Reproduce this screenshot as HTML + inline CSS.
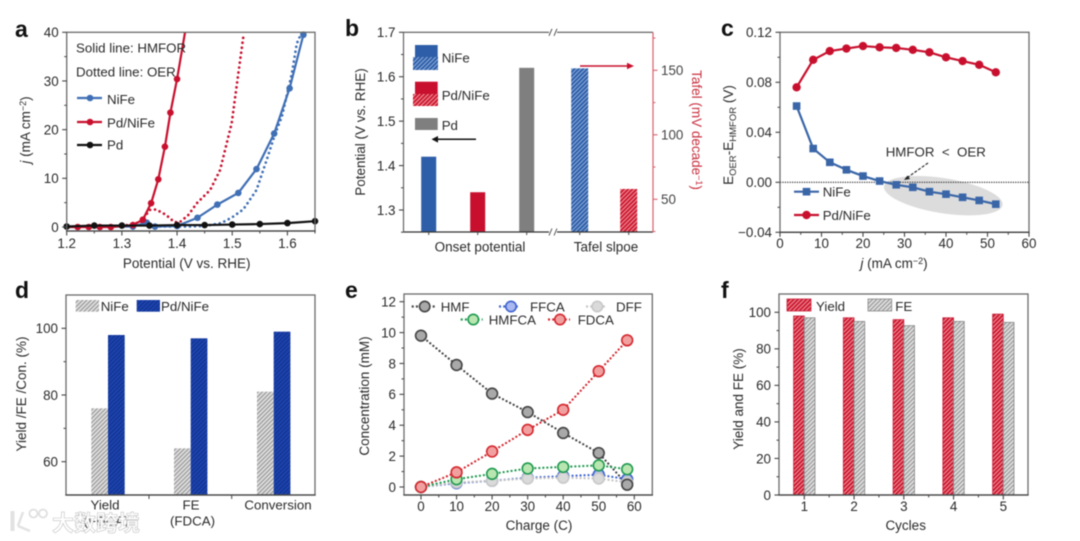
<!DOCTYPE html>
<html lang="en">
<head>
<meta charset="utf-8">
<title>Electrocatalysis figure panels a–f</title>
<style>
html,body{margin:0;padding:0;background:#fff;width:1080px;height:541px;overflow:hidden}
svg{display:block;filter:blur(0.5px)}
text{font-family:"Liberation Sans","Noto Sans CJK SC",sans-serif;fill:#2a2a2a}
</style>
</head>
<body>
<svg id="chart" xmlns="http://www.w3.org/2000/svg" width="1080" height="541" viewBox="0 0 1080 541">
<defs>
<pattern id="h-blue" width="3" height="3" patternUnits="userSpaceOnUse" patternTransform="rotate(45)"><rect width="3" height="3" fill="#2f5ea8"/><rect width="1" height="3" fill="#8fb0dc"/></pattern>
<pattern id="h-red" width="3" height="3" patternUnits="userSpaceOnUse" patternTransform="rotate(45)"><rect width="3" height="3" fill="#cc1a30"/><rect width="1" height="3" fill="#f29aa5"/></pattern>
<pattern id="h-gray" width="3" height="3" patternUnits="userSpaceOnUse" patternTransform="rotate(45)"><rect width="3" height="3" fill="#e2e2e2"/><rect width="1.3" height="3" fill="#9a9a9a"/></pattern>
<pattern id="h-navy" width="3" height="3" patternUnits="userSpaceOnUse" patternTransform="rotate(45)"><rect width="3" height="3" fill="#1c43ae"/><rect width="1" height="3" fill="#12308a"/></pattern>
<clipPath id="clip-a"><rect x="66.7" y="32.3" width="248.3" height="199"/></clipPath>
</defs>
</svg>
<script>
// ---------- Panel a data ----------
const aTicksX = [1.2, 1.3, 1.4, 1.5, 1.6];
const aTicksY = [0, 10, 20, 30, 40];
const aNiFeSolidX = [1.2, 1.32, 1.345, 1.36, 1.4, 1.437, 1.473, 1.511, 1.544, 1.576, 1.604, 1.629];
const aNiFeSolidY = [0, 0.1, 0.9, 0.1, 0.2, 1.9, 4.6, 7, 11.9, 19.2, 28.5, 39.5];
const aNiFeDotX = [1.36, 1.42, 1.45, 1.48, 1.5, 1.52, 1.544, 1.5625, 1.578, 1.59, 1.608, 1.617, 1.626];
const aNiFeDotY = [0.1, 0.1, 0.2, 0.8, 2, 3.6, 7.6, 13.8, 19.2, 22.7, 31.5, 37.7, 40];
const aPdNiFeSolidX = [1.2, 1.22, 1.24, 1.26, 1.28, 1.32, 1.338, 1.353, 1.366, 1.378, 1.388, 1.4, 1.416];
const aPdNiFeSolidY = [0, 0, 0, 0, 0, 0.4, 1.5, 4.9, 9.8, 16.5, 23.5, 30.4, 41];
const aPdNiFeDotX = [1.3, 1.335, 1.35, 1.362, 1.38, 1.395, 1.405, 1.42, 1.436, 1.46, 1.478, 1.499, 1.511, 1.52];
const aPdNiFeDotY = [0.2, 1, 3.5, 3.6, 2.5, 1, 1, 2.4, 4.9, 7.6, 11.7, 21.3, 31.5, 39];
const aPdX = [1.2, 1.25, 1.3, 1.35, 1.4, 1.45, 1.5, 1.55, 1.6, 1.65];
const aPdY = [0.1, 0.3, 0.3, 0.3, 0.4, 0.4, 0.5, 0.6, 0.8, 1.2];
// ---------- Panel b data ----------
const bTicksLeft = [1.3, 1.4, 1.5, 1.6, 1.7];
const bTicksRight = [50, 100, 150];
const bOnset = [1.42, 1.34, 1.62];
const bTafel = [151.5, 58];
// ---------- Panel c data ----------
const cTicksX = [0, 10, 20, 30, 40, 50, 60];
const cTicksY = [-0.04, 0, 0.04, 0.08, 0.12];
const cJ = [4, 8, 12, 16, 20, 24, 28, 32, 36, 40, 44, 48, 52];
const cNiFe = [0.061, 0.027, 0.016, 0.010, 0.005, 0.001, -0.002, -0.004, -0.0075, -0.0095, -0.012, -0.0145, -0.0175];
const cPdNiFe = [0.076, 0.098, 0.105, 0.107, 0.109, 0.108, 0.1075, 0.106, 0.104, 0.1, 0.097, 0.094, 0.088];
// ---------- Panel d data ----------
const dTicksY = [60, 80, 100];
const dNiFe = [76, 64, 81];
const dPdNiFe = [98, 97, 99];
// ---------- Panel e data ----------
const eTicksX = [0, 10, 20, 30, 40, 50, 60];
const eTicksY = [0, 2, 4, 6, 8, 10, 12];
const eCharge = [0, 10, 20, 30, 40, 50, 58];
const eHMF = [9.8, 7.9, 6.05, 4.85, 3.5, 2.2, 0.15];
const eFDCA = [0, 0.95, 2.3, 3.7, 5, 7.5, 9.5];
const eHMFCA = [0, 0.5, 0.85, 1.2, 1.3, 1.4, 1.15];
const eFFCA = [0, 0.25, 0.4, 0.6, 0.7, 0.8, 0.5];
const eDFF = [0, 0.3, 0.4, 0.55, 0.6, 0.55, 0.3];
// ---------- Panel f data ----------
const fCycles = [1, 2, 3, 4, 5];
const fTicksY = [0, 20, 40, 60, 80, 100];
const fYield = [98, 97, 96, 97, 99];
const fFE = [97, 95, 92.7, 95, 94.5];

const NS = 'http://www.w3.org/2000/svg';
const root = document.getElementById('chart');
const AXIS = '#444';
const FS = 13.4;
const LG = 13.3;
const TT = 13.5;

function linear(d0, d1, r0, r1) { return v => r0 + (v - d0) / (d1 - d0) * (r1 - r0); }

function drawLine(x1, y1, x2, y2, stroke, w, name, dash) {
  const el = document.createElementNS(NS, 'line');
  el.setAttribute('x1', x1); el.setAttribute('y1', y1);
  el.setAttribute('x2', x2); el.setAttribute('y2', y2);
  el.setAttribute('stroke', stroke); el.setAttribute('stroke-width', w);
  if (dash) el.setAttribute('stroke-dasharray', dash);
  
  
  root.appendChild(el);
  return el;
}
function drawText(x, y, html, name, size, anchor, fill, transform, weight) {
  const el = document.createElementNS(NS, 'text');
  el.setAttribute('x', x); el.setAttribute('y', y);
  el.setAttribute('font-size', size || FS);
  el.setAttribute('text-anchor', anchor || 'start');
  if (fill) el.style.fill = fill;
  if (transform) el.setAttribute('transform', transform);
  if (weight) el.setAttribute('font-weight', weight);
  el.innerHTML = html;
  
  
  root.appendChild(el);
  return el;
}
function drawRect(x, y, w, h, fill, name, stroke) {
  const el = document.createElementNS(NS, 'rect');
  el.setAttribute('x', x); el.setAttribute('y', y);
  el.setAttribute('width', w); el.setAttribute('height', h);
  el.setAttribute('fill', fill);
  if (stroke) { el.setAttribute('stroke', stroke); el.setAttribute('stroke-width', 0.8); }
  
  
  root.appendChild(el);
  return el;
}
function drawCircle(cx, cy, r, fill, stroke, sw, name) {
  const el = document.createElementNS(NS, 'circle');
  el.setAttribute('cx', cx); el.setAttribute('cy', cy); el.setAttribute('r', r);
  el.setAttribute('fill', fill);
  if (stroke) { el.setAttribute('stroke', stroke); el.setAttribute('stroke-width', sw); }
  
  
  root.appendChild(el);
  return el;
}
function drawPoly(xs, ys, sx, sy, stroke, w, name, dotted, clip) {
  const el = document.createElementNS(NS, 'polyline');
  el.setAttribute('points', xs.map((x, i) => sx(x).toFixed(2) + ',' + sy(ys[i]).toFixed(2)).join(' '));
  el.setAttribute('fill', 'none');
  el.setAttribute('stroke', stroke);
  el.setAttribute('stroke-width', w);
  el.setAttribute('stroke-linejoin', 'round');
  el.setAttribute('stroke-linecap', dotted ? 'round' : 'butt');
  if (dotted) el.setAttribute('stroke-dasharray', dotted);
  if (clip) el.setAttribute('clip-path', 'url(#clip-a)');
  
  
  root.appendChild(el);
  return el;
}
function drawFrame(l, t, r, b, panel) {
  const el = document.createElementNS(NS, 'rect');
  el.setAttribute('x', l); el.setAttribute('y', t);
  el.setAttribute('width', r - l); el.setAttribute('height', b - t);
  el.setAttribute('fill', 'none');
  el.setAttribute('stroke', '#6a6a6a');
  el.setAttribute('stroke-width', 1.3);
  
  
  root.appendChild(el);
  drawLine(l - 0.6, b, r + 0.6, b, '#444', 1.3, panel + '-x-axis-line');
}
function yAxis(panel, ticks, minor, sy, x, fmt, side, color) {
  const dir = side === 'right' ? 1 : -1;
  const c = color || AXIS;
  ticks.forEach(v => {
    drawLine(x, sy(v), x + dir * 4.5, sy(v), c, 1.1, panel + '-y-tick');
    drawText(x + dir * 8, sy(v) + 4.8, fmt(v), panel + '-y-tick-label', FS, dir < 0 ? 'end' : 'start', color ? '#444' : null);
  });
  minor.forEach(v => drawLine(x, sy(v), x + dir * 2.5, sy(v), c, 1, panel + '-y-minor-tick'));
}
function xAxis(panel, ticks, minor, sx, y, fmt, labelY) {
  ticks.forEach(v => {
    drawLine(sx(v), y, sx(v), y + 4.5, AXIS, 1.1, panel + '-x-tick');
    drawText(sx(v), labelY, fmt(v), panel + '-x-tick-label', FS, 'middle');
  });
  minor.forEach(v => drawLine(sx(v), y, sx(v), y + 2.5, AXIS, 1, panel + '-x-minor-tick'));
}
function markers(xs, ys, sx, sy, r, fill, stroke, sw, name) {
  xs.forEach((x, i) => drawCircle(sx(x), sy(ys[i]), r, fill, stroke, sw, name));
}
function rotY(x, y, html, name, deg, fill, anchor) {
  drawText(x, y, html, name, TT, anchor || 'middle', fill, 'rotate(' + (deg || -90) + ' ' + x + ' ' + y + ')');
}

// ---------- Panel labels ----------
drawText(15, 37, 'a', 'panel-label-a', 23, 'start', '#111', null, 'bold');
drawText(345, 36, 'b', 'panel-label-b', 23, 'start', '#111', null, 'bold');
drawText(721, 36, 'c', 'panel-label-c', 23, 'start', '#111', null, 'bold');
drawText(15, 298, 'd', 'panel-label-d', 23, 'start', '#111', null, 'bold');
drawText(345, 298, 'e', 'panel-label-e', 23, 'start', '#111', null, 'bold');
drawText(721, 298, 'f', 'panel-label-f', 23, 'start', '#111', null, 'bold');

// ---------- Panel a ----------
(function () {
  const sx = linear(1.2, 1.65, 66.7, 315);
  const sy = linear(0, 40, 227, 32.3);
  const BLUE = '#3f6fb5', RED = '#c8102e', BLACK = '#111';
  drawPoly(aNiFeDotX, aNiFeDotY, sx, sy, BLUE, 2.7, 'nife-oer-dotted-line', '0 5', true);
  drawPoly(aPdNiFeDotX, aPdNiFeDotY, sx, sy, RED, 2.7, 'pdnife-oer-dotted-line', '0 5', true);
  drawPoly(aNiFeSolidX, aNiFeSolidY, sx, sy, BLUE, 2.2, 'nife-hmfor-line', null, true);
  markers(aNiFeSolidX.slice(1), aNiFeSolidY.slice(1), sx, sy, 3.3, BLUE, null, 0, 'nife-hmfor-point');
  drawPoly(aPdNiFeSolidX, aPdNiFeSolidY, sx, sy, RED, 2.2, 'pdnife-hmfor-line', null, true);
  markers(aPdNiFeSolidX.slice(1, -1), aPdNiFeSolidY.slice(1, -1), sx, sy, 3.3, RED, null, 0, 'pdnife-hmfor-point');
  drawPoly(aPdX, aPdY, sx, sy, BLACK, 2.2, 'pd-line', null, true);
  markers(aPdX, aPdY, sx, sy, 3.3, BLACK, null, 0, 'pd-point');
  drawFrame(66.7, 32.3, 315, 231, 'panel-a');
  yAxis('panel-a', aTicksY, [5, 15, 25, 35], sy, 66.7, v => v);
  xAxis('panel-a', aTicksX, [1.25, 1.35, 1.45, 1.55, 1.65], sx, 231, v => v.toFixed(1), 248);
  drawText(186.7, 268, 'Potential (V vs. RHE)', 'panel-a-x-axis-title', TT, 'middle');
  rotY(30, 130, '<tspan font-style="italic">j</tspan> (mA cm<tspan font-size="9" dy="-4">−2</tspan><tspan dy="4">)</tspan>', 'panel-a-y-axis-title');
  drawText(76, 52.7, 'Solid line: HMFOR', 'solid-line-note', LG);
  drawText(76, 76.7, 'Dotted line: OER', 'dotted-line-note', LG);
  drawLine(77, 98, 102, 98, BLUE, 2.2, 'legend-nife-line');
  drawCircle(90, 98, 3.3, BLUE, null, 0, 'legend-nife-marker');
  drawText(107, 104, 'NiFe', 'legend-nife-label', LG);
  drawLine(77, 122, 102, 122, RED, 2.2, 'legend-pdnife-line');
  drawCircle(90, 122, 3.3, RED, null, 0, 'legend-pdnife-marker');
  drawText(107, 127.5, 'Pd/NiFe', 'legend-pdnife-label', LG);
  drawLine(77, 145, 102, 145, BLACK, 2.2, 'legend-pd-line');
  drawCircle(90, 145, 3.3, BLACK, null, 0, 'legend-pd-marker');
  drawText(107, 149.5, 'Pd', 'legend-pd-label', LG);
})();

// ---------- Panel b ----------
(function () {
  const sy = linear(1.3, 1.7, 210, 32.3);
  const sr = linear(50, 150, 199.3, 70.3);
  const L = 403.5, R = 653, T = 32.3, B = 232;
  const onsetX = [428.7, 477.7, 526.7];
  const onsetFill = ['#2f5ea8', '#c8102e', '#7f7f7f'];
  const onsetNames = ['bar-onset-nife', 'bar-onset-pdnife', 'bar-onset-pd'];
  bOnset.forEach((v, i) => drawRect(onsetX[i] - 7.5, sy(v), 15, B - sy(v), onsetFill[i], onsetNames[i]));
  const tafelX = [579.7, 628.7];
  const tafelFill = ['url(#h-blue)', 'url(#h-red)'];
  const tafelNames = ['bar-tafel-nife', 'bar-tafel-pdnife'];
  bTafel.forEach((v, i) => drawRect(tafelX[i] - 8.5, sr(v), 17, B - sr(v), tafelFill[i], tafelNames[i]));
  drawLine(L, T, R, T, '#555', 1.2, 'panel-b-top-axis');
  drawLine(L, B, R, B, '#333', 1.3, 'panel-b-bottom-axis');
  drawLine(L, T, L, B, '#666', 1.2, 'panel-b-left-axis');
  drawLine(R, T, R, B, '#d9606c', 1.2, 'panel-b-right-axis');
  drawRect(549, T - 3, 8, 6, '#fff', 'axis-break-gap-top');
  drawRect(549, B - 3, 8, 6, '#fff', 'axis-break-gap-bottom');
  [T, B].forEach(y => {
    drawLine(549, y + 3.5, 552, y - 3.5, '#444', 0.9, 'axis-break-mark');
    drawLine(554, y + 3.5, 557, y - 3.5, '#444', 0.9, 'axis-break-mark');
  });
  yAxis('panel-b', bTicksLeft, [1.25, 1.35, 1.45, 1.55, 1.65], sy, L, v => v.toFixed(1));
  yAxis('panel-b-right', bTicksRight, [25, 75, 125, 175], sr, R, v => v, 'right', '#d9606c');
  onsetX.concat(tafelX).forEach(x => drawLine(x, B, x, B + 3, AXIS, 1, 'panel-b-x-tick'));
  drawText(480, 251.7, 'Onset potential', 'x-label-onset-potential', TT, 'middle');
  drawText(606, 251.7, 'Tafel slpoe', 'x-label-tafel-slope', TT, 'middle');
  rotY(365, 132, 'Potential (V vs. RHE)', 'panel-b-y-axis-title');
  rotY(692, 130, 'Tafel (mV decade<tspan font-size="9" dy="-4">−1</tspan><tspan dy="4">)</tspan>', 'panel-b-right-axis-title', 90, '#c8303f');
  drawRect(415, 45, 22.7, 12, '#2f5ea8', 'legend-nife-solid');
  drawRect(413, 57, 25, 13, 'url(#h-blue)', 'legend-nife-hatched');
  drawText(441.7, 62.5, 'NiFe', 'legend-nife-label', LG);
  drawRect(415, 81.7, 22.7, 12.3, '#c8102e', 'legend-pdnife-solid');
  drawRect(413, 94, 25, 12, 'url(#h-red)', 'legend-pdnife-hatched');
  drawText(441.7, 100, 'Pd/NiFe', 'legend-pdnife-label', LG);
  drawRect(415, 118, 22.7, 12, '#7f7f7f', 'legend-pd-solid');
  drawText(441.7, 130, 'Pd', 'legend-pd-label', LG);
  drawLine(476, 139.3, 436, 139.3, '#111', 1.5, 'left-axis-arrow-shaft');
  const a1 = document.createElementNS(NS, 'polygon');
  a1.setAttribute('points', '431.5,139.3 438,136 438,142.6');
  a1.setAttribute('fill', '#111');
  
  
  root.appendChild(a1);
  drawLine(580, 66, 629, 66, '#c8102e', 1.5, 'right-axis-arrow-shaft');
  const a2 = document.createElementNS(NS, 'polygon');
  a2.setAttribute('points', '634,66 627,62.7 627,69.3');
  a2.setAttribute('fill', '#c8102e');
  
  
  root.appendChild(a2);
})();

// ---------- Panel c ----------
(function () {
  const sx = linear(0, 60, 780, 1029);
  const sy = linear(-0.04, 0.12, 232.3, 32.3);
  const BLUE = '#3a66a8', RED = '#c8102e';
  const e = document.createElementNS(NS, 'ellipse');
  e.setAttribute('cx', 943.3); e.setAttribute('cy', 195.7);
  e.setAttribute('rx', 60); e.setAttribute('ry', 17.5);
  e.setAttribute('transform', 'rotate(9 943.3 195.7)');
  e.setAttribute('fill', '#dcdcdc');
  
  
  root.appendChild(e);
  drawLine(780, sy(0), 1029, sy(0), '#222', 1.1, 'zero-reference-line', '1.2 1.2');
  drawPoly(cJ, cNiFe, sx, sy, BLUE, 2.2, 'nife-line');
  cJ.forEach((x, i) => drawRect(sx(x) - 3.8, sy(cNiFe[i]) - 3.8, 7.6, 7.6, BLUE, 'nife-point'));
  drawPoly(cJ, cPdNiFe, sx, sy, RED, 2.2, 'pdnife-line');
  markers(cJ, cPdNiFe, sx, sy, 4.2, RED, null, 0, 'pdnife-point');
  drawFrame(780, 32.3, 1029, 232.3, 'panel-c');
  yAxis('panel-c', cTicksY, [-0.02, 0.02, 0.06, 0.1], sy, 780, v => (v < 0 ? '−' : '') + Math.abs(v).toFixed(2));
  xAxis('panel-c', cTicksX, [5, 15, 25, 35, 45, 55], sx, 232.3, v => v, 248);
  drawText(894, 268, '<tspan font-style="italic">j</tspan> (mA cm<tspan font-size="9" dy="-4">−2</tspan><tspan dy="4">)</tspan>', 'panel-c-x-axis-title', TT, 'middle');
  rotY(733, 135, 'E<tspan font-size="9.5" dy="3">OER</tspan><tspan dy="-3">-E</tspan><tspan font-size="9.5" dy="3">HMFOR</tspan><tspan dy="-3"> (V)</tspan>', 'panel-c-y-axis-title');
  drawText(885.7, 156.7, 'HMFOR &#160;&lt;&#160; OER', 'hmfor-lt-oer-annotation', LG);
  drawLine(928, 163, 906, 178.5, '#222', 1.1, 'annotation-arrow-shaft', '3 1.5');
  const a = document.createElementNS(NS, 'polygon');
  a.setAttribute('points', '904,180 907.5,175.5 910,179');
  a.setAttribute('fill', '#222');
  
  
  root.appendChild(a);
  drawLine(794, 191.7, 819, 191.7, BLUE, 2.2, 'legend-nife-line');
  drawRect(802.7, 187.9, 7.6, 7.6, BLUE, 'legend-nife-marker');
  drawText(822.7, 196.5, 'NiFe', 'legend-nife-label', LG);
  drawLine(794, 215, 819, 215, RED, 2.2, 'legend-pdnife-line');
  drawCircle(806.5, 215, 4.2, RED, null, 0, 'legend-pdnife-marker');
  drawText(822.7, 220, 'Pd/NiFe', 'legend-pdnife-label', LG);
})();

// ---------- Panel d ----------
(function () {
  const sy = linear(50, 110, 495, 295);
  const catX = [108, 190.7, 273.7];
  dNiFe.forEach((v, i) => drawRect(catX[i] - 16.7, sy(v), 16.7, 495 - sy(v), 'url(#h-gray)', 'bar-nife-' + i));
  dPdNiFe.forEach((v, i) => drawRect(catX[i], sy(v), 16.7, 495 - sy(v), 'url(#h-navy)', 'bar-pdnife-' + i));
  drawFrame(66, 295, 315, 495, 'panel-d');
  yAxis('panel-d', dTicksY, [70, 90], sy, 66, v => v);
  [149, 231.7].forEach(x => drawLine(x, 495, x, 499, AXIS, 1, 'panel-d-x-tick'));
  drawText(105, 509.5, 'Yield', 'x-label-yield', LG, 'middle');
  drawText(106, 525.5, '(FDCA)', 'x-label-yield-fdca', LG, 'middle');
  drawText(191, 509.5, 'FE', 'x-label-fe', LG, 'middle');
  drawText(192.5, 525.5, '(FDCA)', 'x-label-fe-fdca', LG, 'middle');
  drawText(278, 509.5, 'Conversion', 'x-label-conversion', LG, 'middle');
  rotY(26, 394, 'Yield /FE /Con. (%)', 'panel-d-y-axis-title');
  drawRect(75.7, 300, 23.3, 11.7, 'url(#h-gray)', 'legend-nife-swatch');
  drawText(100.7, 311, 'NiFe', 'legend-nife-label', LG);
  drawRect(136.7, 300, 23.3, 11.7, 'url(#h-navy)', 'legend-pdnife-swatch');
  drawText(161, 311, 'Pd/NiFe', 'legend-pdnife-label', LG);
})();

// ---------- Panel e ----------
(function () {
  const sx = linear(0, 60, 421, 634.3);
  const sy = linear(0, 12, 487, 301.7);
  const series = [
    { name: 'ffca', ys: eFFCA, line: '#3f63cf', fill: '#aab9ef', stroke: '#3f63cf' },
    { name: 'dff', ys: eDFF, line: '#c4c4c4', fill: '#dadada', stroke: '#c8c8c8' },
    { name: 'hmf', ys: eHMF, line: '#444', fill: '#a9a9a9', stroke: '#444' },
    { name: 'hmfca', ys: eHMFCA, line: '#1f9a50', fill: '#b9e6b0', stroke: '#1f9a50' },
    { name: 'fdca', ys: eFDCA, line: '#d4282f', fill: '#f1a0a0', stroke: '#d4282f' }
  ];
  series.forEach(s => drawPoly(eCharge, s.ys, sx, sy, s.line, 2.3, s.name + '-dotted-line', '0 4'));
  series.forEach(s => markers(eCharge, s.ys, sx, sy, 5.4, s.fill, s.stroke, 1.6, s.name + '-point'));
  drawFrame(404, 294, 652.3, 495, 'panel-e');
  yAxis('panel-e', eTicksY, [1, 3, 5, 7, 9, 11], sy, 404, v => v);
  xAxis('panel-e', eTicksX, [5, 15, 25, 35, 45, 55], sx, 495, v => v, 511);
  drawText(539, 530, 'Charge (C)', 'panel-e-x-axis-title', TT, 'middle');
  rotY(369, 396, 'Concentration (mM)', 'panel-e-y-axis-title');
  function lg(x1, x2, cx, tx, y, s, label) {
    drawLine(x1, y, x2, y, s.line, 2.2, 'legend-' + s.name + '-line', '2 2.2');
    drawCircle(cx, y, 5.2, s.fill, s.stroke, 1.6, 'legend-' + s.name + '-marker');
    drawText(tx, y + 5, label, 'legend-' + s.name + '-label', LG);
  }
  lg(411.7, 436.7, 424.7, 440.7, 306.5, series[2], 'HMF');
  lg(499, 520, 511, 530, 306.5, series[0], 'FFCA');
  lg(586, 606.7, 597.3, 616, 306.5, series[1], 'DFF');
  lg(460.7, 482.7, 473.3, 488.7, 319.5, series[3], 'HMFCA');
  lg(548, 570, 560, 577.7, 319.5, series[4], 'FDCA');
})();

// ---------- Panel f ----------
(function () {
  const sy = linear(0, 100, 495, 312.3);
  const sx = linear(1, 5, 804.3, 1003.3);
  const w = 10.7;
  fYield.forEach((v, i) => drawRect(sx(fCycles[i]) - w, sy(v), w, 495 - sy(v), 'url(#h-red)', 'bar-yield-cycle-' + fCycles[i], '#c8203a'));
  fFE.forEach((v, i) => drawRect(sx(fCycles[i]), sy(v), w, 495 - sy(v), 'url(#h-gray)', 'bar-fe-cycle-' + fCycles[i], '#888'));
  drawFrame(779, 294, 1028, 495, 'panel-f');
  yAxis('panel-f', fTicksY, [10, 30, 50, 70, 90], sy, 779, v => v);
  xAxis('panel-f', fCycles, [1.5, 2.5, 3.5, 4.5], sx, 495, v => v, 511);
  drawText(905.7, 530, 'Cycles', 'panel-f-x-axis-title', TT, 'middle');
  rotY(743, 399, 'Yield and FE (%)', 'panel-f-y-axis-title');
  drawRect(787, 299, 24, 12, 'url(#h-red)', 'legend-yield-swatch', '#c8203a');
  drawText(816, 311, 'Yield', 'legend-yield-label', LG);
  drawRect(868, 299, 23.7, 12, 'url(#h-gray)', 'legend-fe-swatch', '#888');
  drawText(895.3, 311, 'FE', 'legend-fe-label', LG);
})();

// ---------- Watermark ----------
(function () {
  const wm = drawText(52, 531, '大数跨境', 'watermark-text', 22, 'start', '#ffffff', null, 'bold');
  wm.style.stroke = '#c4c4c4';
  wm.style.strokeWidth = '0.6px';
  const o1 = drawCircle(33.5, 513.5, 4, 'none', '#dcdcdc', 1.8, 'watermark-logo-ring');
  const o2 = drawCircle(43, 513.5, 4, 'none', '#dcdcdc', 1.8, 'watermark-logo-ring');
  o1.setAttribute('opacity', 0.9);
  o2.setAttribute('opacity', 0.9);
  drawLine(12.5, 511, 12.5, 531, '#e2e2e2', 4, 'watermark-logo-bar');
  drawLine(23, 512, 18, 526, '#e2e2e2', 2.5, 'watermark-logo-curve');
  drawLine(18, 526, 30, 531, '#e2e2e2', 2.5, 'watermark-logo-curve');
})();
</script>
</body>
</html>
